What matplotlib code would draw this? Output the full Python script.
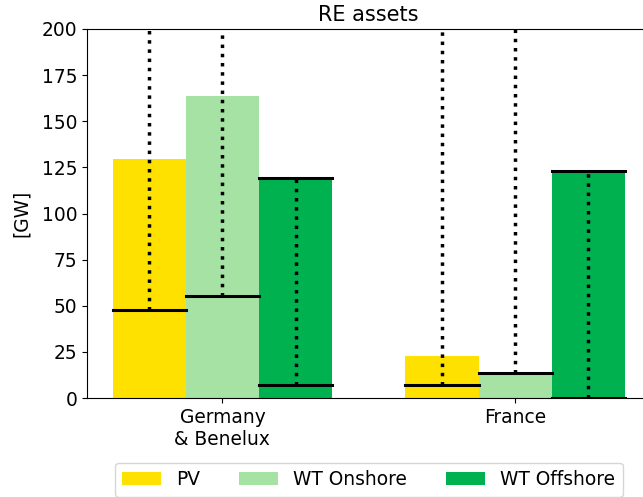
import numpy as np
import matplotlib
matplotlib.use("Agg")
import matplotlib.pyplot as plt

regions = ["Germany\n& Benelux", "France"]
techs = ["PV", "WT Onshore", "WT Offshore"]
colors = ["#FFE100", "#A6E2A3", "#00B24F"]

# installed capacity (bar), lower and upper bound of range [GW]
values = {
    "PV": [129.5, 22.5],
    "WT Onshore": [163.8, 13.0],
    "WT Offshore": [119.0, 123.0],
}
lower = {
    "PV": [47.8, 7.2],
    "WT Onshore": [55.5, 13.3],
    "WT Offshore": [7.0, 0.0],
}
upper = {
    "PV": [260.0, 260.0],
    "WT Onshore": [260.0, 260.0],
    "WT Offshore": [119.0, 123.0],
}

fs = 13.4

fig = plt.figure(figsize=(6.43, 4.97), dpi=100)
ax = fig.add_axes([87 / 643, 99 / 497, 563.5 / 643, 369 / 497])

x = np.arange(len(regions))
width = 0.25
for i, tech in enumerate(techs):
    pos = x + (i - 1) * width
    ax.bar(pos, values[tech], width, color=colors[i], label=tech)
    for p, lo, hi in zip(pos, lower[tech], upper[tech]):
        ax.plot([p, p], [lo, hi], ls=":", color="black", lw=2.5)
        ax.plot([p - width / 2, p + width / 2], [lo, lo], color="black", lw=2.2)
        ax.plot([p - width / 2, p + width / 2], [hi, hi], color="black", lw=2.2)

ax.set_xlim(-0.4625, 1.4625)
ax.set_ylim(0, 200)
ax.set_xticks(x)
ax.set_xticklabels(regions, fontsize=fs)
ax.tick_params(axis="y", labelsize=fs)
ax.set_ylabel("[GW]", fontsize=fs, labelpad=8)
ax.set_title("RE assets", fontsize=15)
ax.legend(loc="upper center", bbox_to_anchor=(0.5, -0.15), ncol=3, fontsize=fs,
          handlelength=2.1, columnspacing=2.1)

fig.savefig("out.png", dpi=100)
